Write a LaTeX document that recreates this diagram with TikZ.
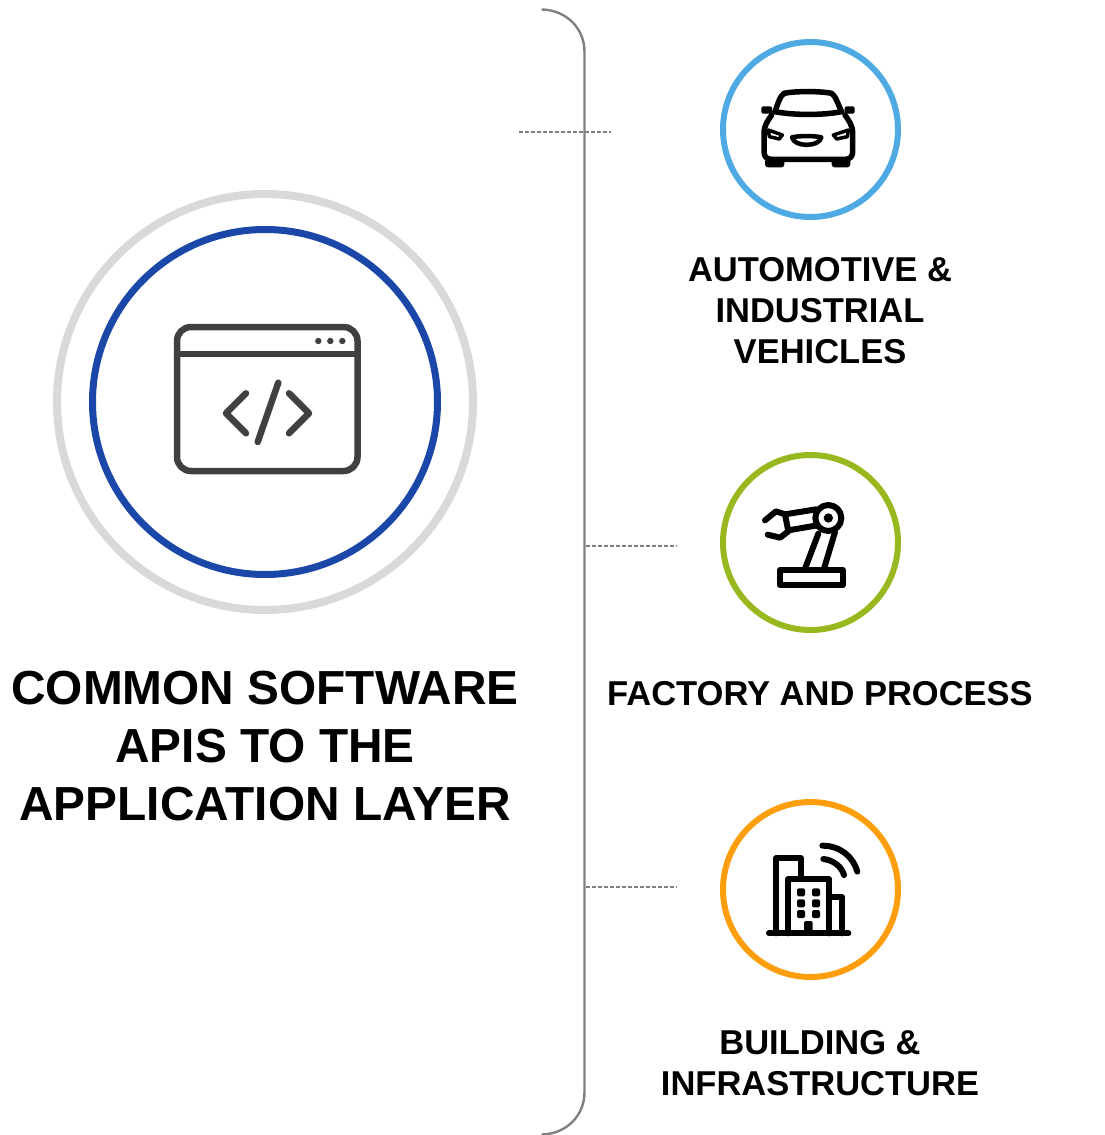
\documentclass[tikz,border=0pt]{standalone}
\usepackage{fontspec}
\setmainfont{Liberation Sans}
\definecolor{brk}{HTML}{808080}
\definecolor{ringgrey}{HTML}{D9D9D9}
\definecolor{ringblue}{HTML}{1A47A8}
\definecolor{ringsky}{HTML}{4FA9E3}
\definecolor{ringgreen}{HTML}{97B81F}
\definecolor{ringorange}{HTML}{FF9E0D}
\definecolor{icondark}{HTML}{404040}
\tikzset{
  ring/.style={circle,draw,inner sep=0pt,line width=#1},
  bigtitle/.style={align=center,font=\fontsize{47.8}{57.7}\selectfont\bfseries,inner sep=0pt},
  label/.style={align=center,font=\fontsize{34.5}{41}\selectfont\bfseries,inner sep=0pt},
  leader/.style={draw=brk,line width=2pt,dash pattern=on 4pt off 2pt},
  bracket/.style={draw=brk,line width=2.4pt},
  iconline/.style={line width=#1,line cap=round,line join=round},
  iconspace/.style={x=0.33333pt,y=-0.33333pt}
}
\begin{document}
\begin{tikzpicture}[x=1pt,y=-1pt]
\useasboundingbox (0,0) rectangle (1105,1135);
% bracket
\draw[bracket] (541.7,9.5) .. controls (566,10) and (584.5,28) .. (584.5,52) -- (584.5,1092) .. controls (584.5,1116) and (566,1134) .. (541.7,1134.5);
% leaders
\coordinate (l1a) at (519,132); \coordinate (l1b) at (611,132);
\coordinate (l2a) at (586,546); \coordinate (l2b) at (677,546);
\coordinate (l3a) at (586,887); \coordinate (l3b) at (677,887);
\draw[leader] (l1a) -- (l1b);
\draw[leader] (l2a) -- (l2b);
\draw[leader] (l3a) -- (l3b);
% main rings
\node[ring=8pt,draw=ringgrey,minimum size=416pt] (outer) at (265,402) {};
\node[ring=7pt,draw=ringblue,minimum size=345pt] (inner) at (265,402) {};
% window icon
\draw[iconline=6.5pt,draw=icondark,rounded corners=14pt] (177,327) rectangle (357.5,471);
\draw[iconline=6.5pt,draw=icondark] (177,354) -- (357.5,354);
\fill[icondark] (318.3,341) circle (3.2) (330.3,341) circle (3.2) (342.3,341) circle (3.2);
\draw[iconline=6.5pt,draw=icondark] (246,393.3) -- (226,413.3) -- (246,433.3);
\draw[iconline=6.5pt,draw=icondark] (289,393.3) -- (309,413.3) -- (289,433.3);
\draw[iconline=6.5pt,draw=icondark] (278.3,382.7) -- (257.7,442);
% small rings
\node[ring=6pt,draw=ringsky,minimum size=175pt] (car) at (810.5,129.5) {};
\node[ring=6pt,draw=ringgreen,minimum size=175pt] (robot) at (810.5,542.5) {};
\node[ring=6pt,draw=ringorange,minimum size=175pt] (bldg) at (810.5,889.5) {};
% car icon
\begin{scope}[shift={(720,40)},iconspace]
\draw[iconline=5.5pt] (165,215) .. controls (172,195) and (180,168) .. (192,160) .. controls (225,153) and (300,153) .. (335,160) .. controls (347,168) and (355,195) .. (365,215);
\draw[iconline=5.5pt] (165,215) .. controls (220,226) and (310,226) .. (365,215);
\draw[iconline=5.5pt] (155,225) .. controls (145,240) and (132,255) .. (132,280) -- (132,335) .. controls (132,350) and (140,358) .. (155,358) -- (375,358) .. controls (390,358) and (398,350) .. (398,335) -- (398,280) .. controls (398,255) and (385,240) .. (375,225);
\fill[rounded corners=2pt] (124,199) rectangle (156,221);
\fill[rounded corners=2pt] (374,199) rectangle (404,221);
\fill[rounded corners=3pt] (135,355) rectangle (193,382);
\fill[rounded corners=3pt] (335,355) rectangle (391,382);
\draw[iconline=3.5pt] (145,270) -- (187,285) -- (178,297) -- (148,290) -- cycle;
\draw[iconline=3.5pt] (385,270) -- (340,285) -- (350,297) -- (382,290) -- cycle;
\draw[iconline=4.5pt] (216,292) .. controls (235,287) and (285,287) .. (304,292) .. controls (298,322) and (222,322) .. (216,292) -- cycle;
\end{scope}
% robot icon
\begin{scope}[shift={(720,452)},iconspace]
\draw[iconline=6pt] (180,354) rectangle (368,400);
\draw[iconline=6pt] (325,198) circle (39);
\fill (325,198) circle (14);
\draw[iconline=6pt] (255,350) -- (295,245);
\draw[iconline=6pt] (312,350) -- (345,240);
\draw[iconline=6pt] (195,187) -- (288,172);
\draw[iconline=6pt] (205,235) -- (292,220);
\draw[iconline=6pt] (135,205) -- (168,178) -- (195,187) -- (205,238) -- (180,257) -- (143,248);
\end{scope}
% building icon
\begin{scope}[shift={(720,800)},iconspace]
\draw[iconline=6pt] (147,400) -- (385,400);
\draw[iconline=6pt] (168,400) -- (168,175) -- (243,175) -- (243,235);
\draw[iconline=6pt] (205,400) -- (205,237) -- (327,237) -- (327,400);
\draw[iconline=6pt] (327,292) -- (367,292) -- (367,400);
\foreach \wx in {243,288}{\foreach \wy in {277,310,342}{
  \fill[rounded corners=1.5pt] (\wx-12,\wy-12) rectangle (\wx+12,\wy+12);}}
\fill[rounded corners=1.5pt] (252,363) rectangle (278,398);
\draw[iconline=6pt] (307,137) .. controls (360,137) and (400,170) .. (412,215);
\draw[iconline=6pt] (310,177) .. controls (340,180) and (365,200) .. (372,225);
\end{scope}
% texts
\node[bigtitle] (title) at (265,746) {COMMON SOFTWARE\\APIS TO THE\\APPLICATION LAYER};
\node[label] (t1) at (820,310.7) {AUTOMOTIVE \&\\INDUSTRIAL\\VEHICLES};
\node[label] (t2) at (820,693.5) {FACTORY AND PROCESS};
\node[label] (t3) at (820,1063) {BUILDING \&\\INFRASTRUCTURE};
\end{tikzpicture}
\end{document}
